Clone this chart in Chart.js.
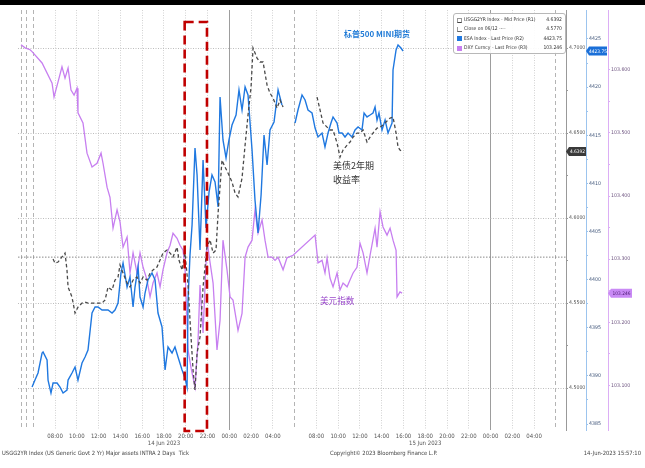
<!DOCTYPE html>
<html>
<head>
<meta charset="utf-8">
<script src="https://cdn.jsdelivr.net/npm/chart.js@4.4.0/dist/chart.umd.min.js"></script>
<style>
  html, body { margin: 0; padding: 0; background: #fff; }
  #wrap { position: relative; width: 645px; height: 468px; overflow: hidden;
          font-family: "DejaVu Sans Condensed", "Liberation Sans", sans-serif; }
  #topbar { position: absolute; left: 0; top: 0; width: 645px; height: 5px; background: #000; }
  canvas { position: absolute; left: 0; top: 0; }
  #legend { position: absolute; left: 453px; top: 13px; width: 111px; height: 38px;
            border: 1px solid #b8b8b8; border-radius: 3px; background: rgba(255,255,255,0.9);
            font-size: 5px; color: #333; padding-top: 1px; }
  #legend .row { position: relative; height: 9.4px; line-height: 9.4px; }
  #legend .ico { position: absolute; left: 3px; top: 2.5px; width: 5px; height: 5px; }
  #legend .lbl { position: absolute; left: 10px; }
  #legend .val { position: absolute; right: 3px; }
  .note { position: absolute; white-space: nowrap; font-family: "Noto Sans CJK SC", sans-serif; }
  .foot { position: absolute; top: 450px; font-size: 5.8px; color: #444; white-space: nowrap; }
</style>
</head>
<body>
<div id="wrap">
  <canvas id="chart" width="645" height="468"></canvas>
  <div id="topbar"></div>
  <div id="legend"></div>
  <div class="note" style="left:344px;top:28px;font-size:8px;font-weight:bold;color:#1f7ad6;">标普500 MINI期货</div>
  <div class="note" style="left:333px;top:159px;font-size:9px;line-height:14px;color:#333;">美债2年期<br>收益率</div>
  <div class="note" style="left:320px;top:294px;font-size:8.6px;color:#9b4bcc;">美元指数</div>
  <div class="foot" style="left:2px;">USGG2YR Index (US Generic Govt 2 Yr) Major assets INTRA 2 Days&nbsp; Tick</div>
  <div class="foot" style="left:330px;width:92px;text-align:center;">Copyright© 2023 Bloomberg Finance L.P.</div>
  <div class="foot" style="right:4px;">14-Jun-2023 15:57:10</div>
</div>
<script>
// hours counted from 00:00 of the first day shown
const dxyHours = [4.87, 5.24, 5.70, 5.88, 6.80, 7.72, 7.90, 8.27, 8.63, 8.91, 9.19, 9.46, 9.74, 10.01, 10.10,
  10.56, 10.93, 11.39, 11.85, 12.22, 12.40, 12.77, 13.04, 13.32, 13.69, 13.96, 14.24, 14.61, 14.88, 15.16,
  15.52, 15.80, 16.08, 16.44, 16.72, 16.99, 17.36, 17.64, 17.91, 18.28, 18.56, 18.83, 19.20, 19.47, 19.75,
  19.93, 20.21, 20.49, 20.85, 21.13, 21.31, 21.59, 21.95, 22.23, 22.51, 22.87, 23.15, 23.42, 23.79, 24.07,
  24.34, 24.62, 24.80, 25.17, 25.45, 25.72, 26.09, 26.36, 26.64, 27.01, 27.28, 27.56, 27.93, 28.20, 28.48,
  28.94, 29.30, 29.86, 31.88, 32.15, 32.52, 32.79, 32.98, 33.25, 33.53, 33.90, 34.17, 34.45, 34.82, 35.09,
  35.37, 35.73, 36.01, 36.29, 36.65, 36.93, 37.39, 37.57, 37.85, 38.12, 38.49, 38.77, 39.04, 39.32, 39.41,
  39.68, 39.87];
const dxyValues = [103.640, 103.635, 103.632, 103.629, 103.611, 103.579, 103.557, 103.581, 103.605, 103.587,
  103.603, 103.568, 103.560, 103.571, 103.532, 103.516, 103.468, 103.446, 103.452, 103.468, 103.452, 103.414,
  103.398, 103.349, 103.378, 103.359, 103.319, 103.335, 103.278, 103.310, 103.278, 103.310, 103.287, 103.267,
  103.240, 103.262, 103.278, 103.256, 103.283, 103.310, 103.322, 103.341, 103.333, 103.322, 103.314, 103.287,
  103.156, 103.127, 103.097, 103.171, 103.259, 103.183, 103.330, 103.295, 103.262, 103.156, 103.203, 103.330,
  103.283, 103.240, 103.235, 103.206, 103.187, 103.214, 103.303, 103.319, 103.330, 103.378, 103.341, 103.362,
  103.330, 103.303, 103.303, 103.298, 103.303, 103.283, 103.302, 103.306, 103.338, 103.294, 103.298, 103.278,
  103.302, 103.270, 103.256, 103.278, 103.251, 103.262, 103.256, 103.267, 103.278, 103.287, 103.325, 103.310,
  103.278, 103.306, 103.349, 103.319, 103.375, 103.351, 103.338, 103.349, 103.330, 103.314, 103.240, 103.248,
  103.246];

const yieldHours = [7.81, 7.99, 8.27, 8.63, 8.91, 9.09, 9.19, 9.55, 9.83, 10.10, 10.47, 10.75, 11.02, 11.67,
  12.31, 12.59, 12.86, 13.23, 13.50, 13.78, 13.96, 14.24, 14.61, 14.88, 15.16, 15.52, 15.80, 16.08, 16.44,
  16.72, 16.99, 17.36, 17.64, 17.91, 18.28, 18.56, 18.83, 19.20, 19.38, 19.66, 19.93, 20.21, 20.39, 20.67,
  20.85, 21.04, 21.31, 21.59, 21.95, 22.23, 22.51, 22.78, 22.97, 23.33, 23.61, 23.88, 24.25, 24.53, 24.80,
  25.17, 25.45, 25.72, 26.00, 26.18, 26.55, 26.82, 27.10, 27.47, 27.74, 28.02, 28.39, 28.66, 28.94, 30.50,
  32.06, 32.34, 32.61, 32.98, 33.25, 33.53, 33.90, 34.17, 34.45, 34.82, 35.09, 35.37, 35.73, 36.01, 36.29,
  36.65, 36.93, 37.20, 37.57, 37.85, 38.12, 38.49, 38.77, 39.04, 39.32, 39.50, 39.68, 39.87];
const yieldValues = [4.5759, 4.5735, 4.5741, 4.5771, 4.5794, 4.5694, 4.5594, 4.5535, 4.5441, 4.5476, 4.5500,
  4.5506, 4.5500, 4.5500, 4.5500, 4.5518, 4.5594, 4.5576, 4.5635, 4.5653, 4.5724, 4.5676, 4.5618, 4.5594,
  4.5635, 4.5653, 4.5618, 4.5653, 4.5635, 4.5676, 4.5694, 4.5712, 4.5753, 4.5794, 4.5812, 4.5794, 4.5771,
  4.5829, 4.5753, 4.5694, 4.5794, 4.5606, 4.5400, 4.5106, 4.4988, 4.5206, 4.5300, 4.5594, 4.5829, 4.5871,
  4.5794, 4.5812, 4.6029, 4.6341, 4.6300, 4.6265, 4.6212, 4.6147, 4.6124, 4.6235, 4.6429, 4.6606, 4.6771,
  4.7000, 4.6941, 4.6918, 4.6918, 4.6782, 4.6735, 4.6706, 4.6647, 4.6694, 4.6653, null,
  4.6712, 4.6635, 4.6559, 4.6535, 4.6518, 4.6518, 4.6441, 4.6359, 4.6400, 4.6429, 4.6447, 4.6476, 4.6500,
  4.6500, 4.6518, 4.6447, 4.6476, 4.6500, 4.6529, 4.6535, 4.6547, 4.6571, 4.6588, 4.6594, 4.6500, 4.6418,
  4.6400, 4.6392];
const closeLevel = 4.5770;

const esaHours = [5.88, 6.15, 6.43, 6.80, 6.89, 7.26, 7.35, 7.62, 7.81, 8.18, 8.45, 8.73, 9.09, 9.19, 9.55,
  9.83, 10.10, 10.47, 10.75, 11.02, 11.39, 11.67, 11.94, 12.31, 12.59, 12.86, 13.23, 13.50, 13.78, 14.05,
  14.24, 14.61, 14.88, 15.16, 15.34, 15.62, 15.80, 16.08, 16.26, 16.53, 16.90, 17.18, 17.45, 17.82, 18.10,
  18.37, 18.74, 19.01, 19.29, 19.66, 19.93, 20.12, 20.21, 20.39, 20.58, 20.85, 21.04, 21.31, 21.59, 21.86,
  22.14, 22.41, 22.69, 22.97, 23.15, 23.42, 23.70, 23.97, 24.25, 24.62, 24.89, 25.17, 25.45, 25.72, 26.09,
  26.36, 26.64, 26.92, 27.19, 27.47, 27.74, 28.11, 28.48, 28.84, 29.40, 30.04, 30.31, 30.68, 30.96, 31.23,
  31.60, 31.88, 32.15, 32.52, 32.79, 33.07, 33.34, 33.53, 33.90, 34.08, 34.36, 34.63, 34.91, 35.27, 35.55,
  35.83, 36.19, 36.38, 36.65, 36.93, 37.20, 37.39, 37.57, 37.75, 38.03, 38.31, 38.58, 38.95, 39.04, 39.32,
  39.50, 39.77, 39.96];
const esaValues = [4388.84, 4389.57, 4390.30, 4392.38, 4392.48, 4391.65, 4389.57, 4388.22, 4389.26, 4389.26,
  4388.84, 4388.22, 4388.53, 4389.57, 4390.30, 4390.92, 4389.57, 4391.34, 4391.96, 4392.69, 4396.53, 4397.16,
  4397.16, 4396.84, 4396.84, 4396.84, 4396.53, 4396.84, 4397.57, 4400.69, 4401.73, 4399.23, 4400.27, 4397.16,
  4399.23, 4401.31, 4398.19, 4397.16, 4398.61, 4399.96, 4400.69, 4399.96, 4396.53, 4395.08, 4390.61, 4393.00,
  4392.38, 4393.00, 4391.96, 4390.61, 4389.78, 4388.84, 4397.88, 4402.56, 4405.68, 4413.68, 4410.87, 4403.08,
  4412.43, 4405.36, 4409.10, 4410.87, 4410.14, 4407.55, 4418.97, 4414.51, 4412.64, 4414.51, 4416.06, 4417.10,
  4419.70, 4417.62, 4420.01, 4419.18, 4413.47, 4408.27, 4404.84, 4408.79, 4415.03, 4411.91, 4415.55, 4416.38,
  4419.70, 4418.14, null, 4416.27, 4417.62, 4419.18, 4418.66, 4417.62, 4417.31, 4415.75, 4414.82, 4415.23,
  4413.78, 4415.23, 4416.27, 4416.90, 4416.27, 4415.23, 4415.23, 4414.82, 4415.23, 4414.82, 4415.55, 4415.86,
  4415.55, 4417.31, 4416.90, 4417.10, 4417.31, 4417.94, 4416.58, 4417.31, 4415.55, 4416.58, 4415.23, 4416.27,
  4421.78, 4423.86, 4424.38, 4424.06, 4423.75];

// axis ticks
const xLabelHours = [8, 10, 12, 14, 16, 18, 20, 22, 24, 26, 28, 32, 34, 36, 38, 40, 42, 44, 46, 48, 50, 52];
const xSessionHours = [4.87, 5.35, 6, 30, 54];
const xMidnightHours = [24, 48];
const dateLabels = { 18: '14 Jun 2023', 42: '15 Jun 2023' };
const yieldTicks = [4.50, 4.55, 4.60, 4.65, 4.70];
const esaTicks = [4385, 4390, 4395, 4400, 4405, 4410, 4415, 4420, 4425];
const dxyTicks = [103.1, 103.2, 103.3, 103.4, 103.5, 103.6];
const highlightHours = [19.9, 21.95];
const highlightTop = 4.7153;

const legendLabels = ['USGG2YR Index - Mid Price (R1)', 'Close on 06/12 ----',
  'ESA Index - Last Price (R2)', 'DXY Curncy - Last Price (R3)'];

const YIELD_COLOR = '#4a4a4a';
const ESA_COLOR = '#1f78e0';
const DXY_COLOR = '#c77ff0';
const FONT_FAMILY = '"DejaVu Sans Condensed", "Liberation Sans", sans-serif';
const X_MIN = 4.59, X_MAX = 54.93;

function points(hours, values) {
  return hours.map((h, i) => ({ x: h, y: values[i] }));
}
function lastValue(values) {
  return values[values.length - 1];
}
function withMinors(major) {
  const out = [];
  major.forEach((v, i) => {
    out.push({ value: v, major: true });
    if (i < major.length - 1) out.push({ value: (v + major[i + 1]) / 2, major: false });
  });
  return out;
}
function isMajor(ctx) {
  return ctx.tick && ctx.tick.major;
}

// legend box
const legendValues = [lastValue(yieldValues).toFixed(4), closeLevel.toFixed(4),
  lastValue(esaValues).toFixed(2), lastValue(dxyValues).toFixed(3)];
const legendIcons = ['border:1px solid #999;border-bottom:1px solid #444;', 'border-left:1px solid #999;border-bottom:1px dashed #666;',
  'background:' + ESA_COLOR + ';', 'background:' + DXY_COLOR + ';'];
const legendEl = document.getElementById('legend');
legendLabels.forEach((label, i) => {
  const row = document.createElement('div');
  row.className = 'row';
  row.innerHTML = '<span class="ico" style="' + legendIcons[i] + 'box-sizing:border-box;"></span>' +
    '<span class="lbl">' + label + '</span><span class="val">' + legendValues[i] + '</span>';
  legendEl.appendChild(row);
});

// last price badges on the right axes + the red highlight box
const overlayPlugin = {
  id: 'overlay',
  afterDatasetsDraw(chart) {
    const ctx = chart.ctx;
    const xs = chart.scales.x;
    const ys = chart.scales.yYield;
    const x1 = xs.getPixelForValue(highlightHours[0]);
    const x2 = xs.getPixelForValue(highlightHours[1]);
    const top = ys.getPixelForValue(highlightTop);
    const bottom = chart.chartArea.bottom + 1;
    ctx.save();
    ctx.strokeStyle = '#c00000';
    ctx.lineWidth = 2.6;
    ctx.setLineDash([9, 5]);
    ctx.strokeRect(x1, top, x2 - x1, bottom - top);
    ctx.restore();
  },
  afterDraw(chart) {
    const ctx = chart.ctx;
    const badges = [
      { axis: 'yYield', value: lastValue(yieldValues), text: lastValue(yieldValues).toFixed(4), bg: '#3a3a3a', fg: '#fff', w: 20 },
      { axis: 'yEsa', value: lastValue(esaValues), text: lastValue(esaValues).toFixed(2), bg: '#1a6fd8', fg: '#fff', w: 21 },
      { axis: 'yDxy', value: lastValue(dxyValues), text: lastValue(dxyValues).toFixed(3), bg: '#c98af5', fg: '#4a1a70', w: 24 }
    ];
    badges.forEach(b => {
      const sc = chart.scales[b.axis];
      const y = sc.getPixelForValue(b.value);
      const x0 = sc.left;
      const h = 9;
      ctx.save();
      ctx.beginPath();
      ctx.moveTo(x0, y);
      ctx.lineTo(x0 + 3, y - h / 2);
      ctx.lineTo(x0 + b.w, y - h / 2);
      ctx.lineTo(x0 + b.w, y + h / 2);
      ctx.lineTo(x0 + 3, y + h / 2);
      ctx.closePath();
      ctx.fillStyle = b.bg;
      ctx.fill();
      ctx.fillStyle = b.fg;
      ctx.font = '4.8px ' + FONT_FAMILY;
      ctx.textAlign = 'center';
      ctx.textBaseline = 'middle';
      ctx.fillText(b.text, x0 + 1.5 + b.w / 2, y + 0.5);
      ctx.restore();
    });
  }
};

function rightAxis(ticks, width, decimals, color, labelColor, showGrid) {
  return {
    type: 'linear',
    position: 'right',
    afterBuildTicks: (scale) => { scale.ticks = withMinors(ticks); },
    afterFit: (scale) => { scale.width = width; },
    ticks: {
      font: { family: FONT_FAMILY, size: 5.2 },
      color: labelColor,
      padding: 1,
      autoSkip: false,
      callback: (v, i, all) => (all[i] && all[i].major ? v.toFixed(decimals) : '')
    },
    grid: {
      drawOnChartArea: showGrid,
      color: (ctx) => (isMajor(ctx) ? '#bdbdbd' : 'rgba(0,0,0,0)'),
      tickColor: color,
      tickLength: 2,
      lineWidth: 1
    },
    border: { display: true, color: color, width: 1, dash: [1, 1.5] }
  };
}

const yieldAxis = rightAxis(yieldTicks, 20, 4, '#999', '#555', true);
yieldAxis.min = 4.4753;
yieldAxis.max = 4.7224;
const esaAxis = rightAxis(esaTicks, 22, 0, '#9cc4ee', '#40567a', false);
esaAxis.min = 4384.38;
esaAxis.max = 4428.01;
const dxyAxis = rightAxis(dxyTicks, 37, 3, '#dcaef5', '#6e5580', false);
dxyAxis.min = 103.029;
dxyAxis.max = 103.695;

new Chart(document.getElementById('chart'), {
  type: 'line',
  data: {
    datasets: [
      {
        label: legendLabels[0],
        data: points(yieldHours, yieldValues),
        yAxisID: 'yYield',
        borderColor: YIELD_COLOR,
        borderWidth: 1.3,
        borderDash: [3.5, 2.5]
      },
      {
        label: legendLabels[2],
        data: points(esaHours, esaValues),
        yAxisID: 'yEsa',
        borderColor: ESA_COLOR,
        borderWidth: 1.4
      },
      {
        label: legendLabels[3],
        data: points(dxyHours, dxyValues),
        yAxisID: 'yDxy',
        borderColor: DXY_COLOR,
        borderWidth: 1.3
      },
      {
        label: legendLabels[1],
        data: [{ x: X_MIN, y: closeLevel }, { x: X_MAX, y: closeLevel }],
        yAxisID: 'yYield',
        borderColor: '#8a8a8a',
        borderWidth: 1,
        borderDash: [1.5, 1.5]
      }
    ]
  },
  options: {
    responsive: false,
    animation: false,
    spanGaps: false,
    layout: { padding: { left: 18, top: 10, right: 0, bottom: 0 } },
    elements: { point: { radius: 0 }, line: { tension: 0 } },
    plugins: {
      legend: { display: false },
      tooltip: { enabled: false }
    },
    scales: {
      x: {
        type: 'linear',
        min: X_MIN,
        max: X_MAX,
        afterBuildTicks: (scale) => {
          const all = xLabelHours.concat(xSessionHours).sort((a, b) => a - b);
          scale.ticks = all.map(v => ({ value: v }));
        },
        afterFit: (scale) => { scale.height = 38; },
        ticks: {
          font: { family: FONT_FAMILY, size: 6 },
          color: '#555',
          padding: 3,
          autoSkip: false,
          maxRotation: 0,
          callback: (v) => {
            if (!xLabelHours.includes(v)) return '';
            const hh = String(v % 24).padStart(2, '0') + ':00';
            return dateLabels[v] ? [hh, dateLabels[v]] : hh;
          }
        },
        grid: {
          drawTicks: false,
          lineWidth: 1,
          color: (ctx) => {
            const v = ctx.tick ? ctx.tick.value : null;
            if (xMidnightHours.includes(v)) return '#9d9d9d';
            if (xSessionHours.includes(v)) return '#b4b4b4';
            return '#d2d2d2';
          }
        },
        border: {
          display: false,
          dash: (ctx) => {
            const v = ctx.tick ? ctx.tick.value : null;
            if (xMidnightHours.includes(v)) return [];
            if (xSessionHours.includes(v)) return [4, 3];
            return [1, 1.5];
          }
        }
      },
      yYield: yieldAxis,
      yEsa: esaAxis,
      yDxy: dxyAxis
    }
  },
  plugins: [overlayPlugin]
});
</script>
</body>
</html>
